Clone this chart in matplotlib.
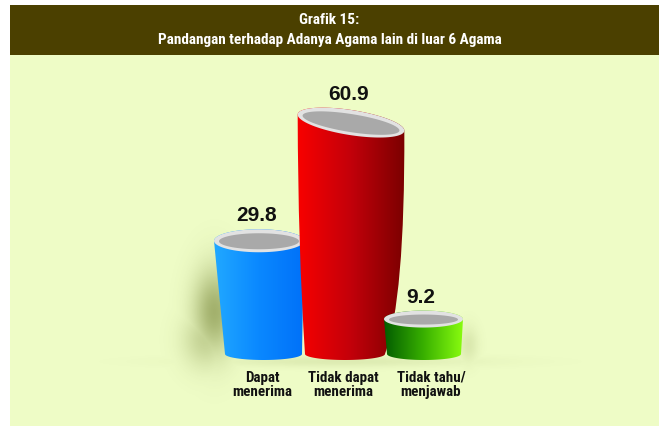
import numpy as np
import matplotlib
matplotlib.use("Agg")
import matplotlib.pyplot as plt
from matplotlib.path import Path
from matplotlib.patches import PathPatch, Rectangle
from matplotlib.transforms import IdentityTransform
from matplotlib.colors import LinearSegmentedColormap
from matplotlib import font_manager as fm

# ---------------- data ----------------
title_lines = ["Grafik 15:", "Pandangan terhadap Adanya Agama lain di luar 6 Agama"]
categories = ["Dapat\nmenerima", "Tidak dapat\nmenerima", "Tidak tahu/\nmenjawab"]
values = [29.8, 60.9, 9.2]
value_labels = ["29.8", "60.9", "9.2"]

# ---------------- layout / style ----------------
W, H = 659, 427
BASE = 355.0          # pixel row of value 0
SCALE = 3.8           # pixels per unit
x_top = [259, 351, 423.5]        # top centre x (px)
w_top = [90, 108, 79]
h_top = [23, 25, 17]
ang_top = [0, -9, 0]
x_bot = [263.5, 345, 424]
w_bot = [77, 80, 74]
h_bot = [12, 12, 12]
side_ctrl_l = [None, (298, 250), None]
side_ctrl_r = [None, (405, 300), None]
label_x = [262, 343, 431]
grad_colors = [["#22aaff", "#0a88ff", "#0070f8"],
               ["#fa0000", "#c2000a", "#780000"],
               ["#005800", "#38b000", "#8cff10"]]
BG = "#eefcc6"
TITLE_BG = "#4b4000"

avail = {f.name for f in fm.fontManager.ttflist}
cond = next((f for f in ["Liberation Sans Narrow", "Roboto Condensed", "Open Sans Condensed"] if f in avail), "DejaVu Sans")
numf = next((f for f in ["Liberation Sans", "Arial"] if f in avail), "DejaVu Sans")

fig = plt.figure(figsize=(W / 100, H / 100), dpi=100)
fig.patch.set_facecolor("white")

def fy(py):
    return 1 - py / H

fig.patches.append(Rectangle((10 / W, 0), 1 - 10 / W, fy(56), transform=fig.transFigure,
                             facecolor=BG, edgecolor="none", zorder=-2))
fig.patches.append(Rectangle((10 / W, fy(56)), 1 - 10 / W, fy(6) - fy(56), transform=fig.transFigure,
                             facecolor=TITLE_BG, edgecolor="none", zorder=-2))
fig.text(0.5, fy(20.5), title_lines[0], ha="center", va="center", color="white",
         fontsize=11, fontweight="bold", family=[cond, "DejaVu Sans"])
fig.text(0.5, fy(40), title_lines[1], ha="center", va="center", color="white",
         fontsize=11, fontweight="bold", family=[cond, "DejaVu Sans"])

ax = fig.add_axes([0, 0, 1, 1])
ax.set_zorder(1)
ax.patch.set_visible(False)
ax.axis("off")
YLIM = (-(H - BASE) / SCALE, BASE / SCALE)
ax.set_xlim(0, W)
ax.set_ylim(*YLIM)

# shadow layer (soft blobs)
yy, xx = np.mgrid[0:H, 0:W]
alpha = np.zeros((H, W))
def blob(cx, cy, sx, sy, a):
    global alpha
    alpha = np.maximum(alpha, a * np.exp(-(((xx - cx) / sx) ** 2 + ((yy - cy) / sy) ** 2) / 2))
blob(214, 312, 15, 30, 0.45)
blob(205, 340, 16, 20, 0.25)
blob(468, 345, 7, 13, 0.12)
blob(340, 362, 95, 4, 0.10)
shadow = np.zeros((H, W, 4))
shadow[..., 0] = 0.28
shadow[..., 1] = 0.34
shadow[..., 2] = 0.0
shadow[..., 3] = alpha
ax.imshow(shadow, extent=(0, W, YLIM[0], YLIM[1]), aspect="auto",
          zorder=1, interpolation="bilinear")
ax.set_xlim(0, W)
ax.set_ylim(*YLIM)

def ell_pts(cx, cy, a, b, ang_deg, t):
    ang = np.deg2rad(ang_deg)
    x = a * np.cos(t)
    y = b * np.sin(t)
    return np.column_stack([cx + x * np.cos(ang) - y * np.sin(ang),
                            cy + x * np.sin(ang) + y * np.cos(ang)])

fig.canvas.draw()
T = ax.transData
for i, v in enumerate(values):
    cx, cy = T.transform((x_top[i], v))
    bx, by = T.transform((x_bot[i], 0))
    a, b = w_top[i] / 2, h_top[i] / 2
    ang = ang_top[i]
    top_l = ell_pts(cx, cy, a, b, ang, np.array([np.pi]))[0]
    top_r = ell_pts(cx, cy, a, b, ang, np.array([0.0]))[0]
    bl = np.array([bx - w_bot[i] / 2, by])
    br = np.array([bx + w_bot[i] / 2, by])
    verts = [tuple(top_l)]
    codes = [Path.MOVETO]
    if side_ctrl_l[i] is not None:
        c = side_ctrl_l[i]
        verts += [(c[0], H - c[1]), tuple(bl)]
        codes += [Path.CURVE3, Path.CURVE3]
    else:
        verts.append(tuple(bl)); codes.append(Path.LINETO)
    t = np.linspace(np.pi, 2 * np.pi, 40)
    bot = ell_pts(bx, by, w_bot[i] / 2, h_bot[i] / 2, 0, t)
    for p in bot[1:]:
        verts.append(tuple(p)); codes.append(Path.LINETO)
    if side_ctrl_r[i] is not None:
        c = side_ctrl_r[i]
        verts += [(c[0], H - c[1]), tuple(top_r)]
        codes += [Path.CURVE3, Path.CURVE3]
    else:
        verts.append(tuple(top_r)); codes.append(Path.LINETO)
    t2 = np.linspace(0, np.pi, 40)
    topback = ell_pts(cx, cy, a, b, ang, t2)
    for p in topback[1:]:
        verts.append(tuple(p)); codes.append(Path.LINETO)
    verts.append(verts[0]); codes.append(Path.CLOSEPOLY)
    path = Path(verts, codes)
    body = PathPatch(path, transform=IdentityTransform(), facecolor="none", edgecolor="none")
    ax.add_patch(body)
    cmap = LinearSegmentedColormap.from_list("g%d" % i, grad_colors[i])
    grad = np.linspace(0, 1, 256)[None, :]
    x0 = min(top_l[0], bl[0]) - 2
    x1 = max(top_r[0], br[0]) + 2
    im = ax.imshow(grad, cmap=cmap, aspect="auto", zorder=3 + i * 0.1,
                   extent=(x0, x1, -15, 80), interpolation="bilinear")
    im.set_clip_path(body)
    ax.set_xlim(0, W)
    ax.set_ylim(*YLIM)
    # top rim
    outer = ell_pts(cx, cy, a, b, ang, np.linspace(0, 2 * np.pi, 100))
    ax.add_patch(PathPatch(Path(outer, closed=True), transform=IdentityTransform(),
                           facecolor="#e2e2e2", edgecolor="none", zorder=3.05 + i * 0.1))
    inner = ell_pts(cx, cy - 0.5, a - 5, b - 3.5, ang, np.linspace(0, 2 * np.pi, 100))
    ax.add_patch(PathPatch(Path(inner, closed=True), transform=IdentityTransform(),
                           facecolor="#a9a9a9", edgecolor="none", zorder=3.06 + i * 0.1))
    # value label
    top_extent = np.sqrt((a * np.sin(np.deg2rad(ang))) ** 2 + (b * np.cos(np.deg2rad(ang))) ** 2)
    ax.annotate(value_labels[i], xy=(x_top[i], v), xytext=(-2, (top_extent + 5) * 0.72),
                textcoords="offset points", ha="center", va="bottom", fontsize=15,
                fontweight="bold", color="#111111", family=[numf, "DejaVu Sans"], zorder=6)
    ax.text(label_x[i], -(385 - BASE) / SCALE, categories[i], ha="center", va="center",
            fontsize=10.8, fontweight="bold", color="#111111", linespacing=1.0,
            family=[cond, "DejaVu Sans"], zorder=6)

ax.set_xlim(0, W)
ax.set_ylim(*YLIM)
fig.savefig("out.png", dpi=100)
